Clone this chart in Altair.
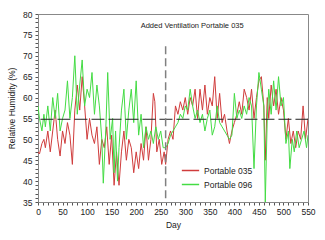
import altair as alt
import pandas as pd

# ---- data ----
days_096 = [0, 3, 8, 12, 15, 20, 25, 30, 35, 40, 45, 50, 55, 60, 65, 70, 75, 80, 85, 90,
            95, 100, 105, 110, 115, 120, 125, 130, 133, 138, 142, 147, 152, 155, 158, 162,
            165, 170, 175, 180, 185, 190, 195, 200, 205, 210, 215, 220, 225, 230, 235, 240,
            245, 250, 255, 260, 265, 270, 275, 280, 285, 290, 295, 300, 305, 310, 315, 320,
            325, 330, 335, 340, 345, 350, 355, 360, 365, 370, 375, 380, 385, 390, 395, 400,
            405, 410, 415, 420, 425, 430, 435, 440, 445, 450, 455, 460, 463, 467, 470, 475,
            480, 485, 490, 495, 500, 505, 510, 513, 518, 522, 527, 532, 537, 542, 547, 550]
rh_096 = [58, 55, 52, 56, 53, 58, 52, 60, 55, 61, 52, 55, 57, 64, 55, 60, 70, 56, 63, 69,
          58, 62, 60, 66, 56, 63, 58, 50, 39.5, 52, 66, 50, 55, 42, 52, 40,
          48, 57, 62, 50, 57, 62, 54, 64, 51, 56, 48, 53, 50, 52, 49, 53,
          50, 52, 48, 48, 49, 51, 52, 53, 54, 56, 55, 58, 57, 62, 58, 55,
          57, 54, 56, 52, 55, 57, 51, 53, 58, 54, 53, 52, 51, 50, 51, 61,
          55, 57, 55, 58, 56, 60, 58, 43, 58, 66, 62, 58, 35, 55, 62, 56,
          64, 57, 65, 58, 60, 49, 52, 43, 50, 47, 52, 48, 50, 52, 48, 51]

days_035 = [0, 3, 8, 12, 15, 20, 25, 30, 35, 40, 45, 50, 55, 60, 65, 70, 75, 80, 85, 90,
            95, 100, 105, 110, 115, 120, 125, 130, 135, 140, 145, 150, 155, 160, 165, 170,
            175, 180, 185, 190, 195, 200, 205, 210, 215, 220, 225, 230, 235, 238, 242, 247,
            252, 257, 260, 265, 270, 275, 280, 285, 290, 295, 300, 305, 310, 315, 320, 325,
            330, 335, 340, 345, 350, 355, 360, 365, 370, 375, 380, 385, 390, 395, 400, 405,
            410, 415, 420, 425, 430, 435, 440, 445, 450, 455, 460, 463, 467, 470, 475, 480,
            485, 490, 495, 500, 505, 510, 515, 520, 525, 530, 535, 540, 545, 550]
rh_035 = [47, 46.5, 49, 50, 48, 52, 47, 52, 57, 50, 46, 52, 49, 54, 51, 44, 57, 63, 57, 65,
          58, 50, 55, 51, 49, 53, 44, 50, 48, 53, 44, 51, 39, 47, 39, 47,
          52, 45, 50, 48, 42, 47, 43, 49, 45, 53, 45, 50, 61, 59, 47, 50,
          44, 47, 44, 50, 52, 50, 58, 56, 59, 57, 60, 56, 60, 58, 62, 55,
          62, 57, 63, 56, 60, 58, 65, 55, 61, 54, 56, 52, 49, 52, 54, 56,
          59, 56, 62, 60, 57, 62, 55, 60, 64, 65, 58, 45, 60, 55, 63, 58,
          62, 56, 60, 57, 50, 55, 49, 52, 48, 52, 50, 58, 50, 55]

series_names = ["Portable 035", "Portable 096"]
series_colors = ["#d03c3c", "#44dc44"]

mean_line_rh = [54.8]
mean_line_start = [5]
mean_line_end = [550]

event_day = [260]
event_top = [72.3]
event_bottom = [35]

annotation_text = ["Added Ventilation Portable 035"]
annotation_day = [314]
annotation_rh = [77.2]

x_ticks = list(range(0, 551, 10))
y_ticks = list(range(35, 81, 1))

# ---- tables ----
df = pd.concat([
    pd.DataFrame({"day": days_035, "rh": rh_035, "series": series_names[0]}),
    pd.DataFrame({"day": days_096, "rh": rh_096, "series": series_names[1]}),
])
mean_df = pd.DataFrame({"day": mean_line_start, "x2": mean_line_end, "rh": mean_line_rh})
event_df = pd.DataFrame({"day": event_day, "rh": event_top, "y2": event_bottom})
ann_df = pd.DataFrame({"day": annotation_day, "rh": annotation_rh, "t": annotation_text})

FONT = "Liberation Sans"
xscale = alt.Scale(domain=[0, 550], nice=False, zero=False)
yscale = alt.Scale(domain=[35, 80], nice=False, zero=False)

common_axis = dict(labelFont=FONT, titleFont=FONT, labelFontSize=8.5, titleFontSize=8.5,
                   titleFontWeight="normal", labelColor="#222", titleColor="#222",
                   domainColor="#888", tickColor="#555", tickWidth=1, grid=False,
                   labelOverlap=False, labelFlush=False, labelBound=False, tickSize=3)

x_axis = alt.Axis(values=x_ticks, labelExpr="datum.value % 50 === 0 ? datum.label : ''",
                  labelPadding=2, title="Day", titlePadding=5, **common_axis)
y_axis = alt.Axis(values=y_ticks, labelExpr="datum.value % 5 === 0 ? datum.label : ''",
                  labelPadding=3, title="Relative Humidity (%)", titlePadding=6, **common_axis)

X = alt.X("day:Q", scale=xscale, axis=x_axis)
Y = alt.Y("rh:Q", scale=yscale, axis=y_axis)

lines = alt.Chart(df).mark_line(strokeWidth=1, clip=True).encode(
    x=X, y=Y,
    color=alt.Color("series:N",
                    scale=alt.Scale(domain=series_names, range=series_colors),
                    legend=alt.Legend(title=None, orient="none", legendX=143, legendY=147,
                                      symbolType="stroke", symbolSize=300, symbolStrokeWidth=1.5,
                                      labelFont=FONT, labelFontSize=8.5, rowPadding=0,
                                      labelColor="#222", labelOffset=4)),
    order=alt.Order("day:Q"),
)

mean_rule = alt.Chart(mean_df).mark_rule(color="#222", strokeWidth=1, strokeDash=[13, 4]).encode(
    x=X, x2="x2:Q", y=Y
)

event_rule = alt.Chart(event_df).mark_rule(color="#808080", strokeWidth=1.5, strokeDash=[8, 4]).encode(
    x=X, y=Y, y2="y2:Q"
)

ann = alt.Chart(ann_df).mark_text(font=FONT, fontSize=7.5, color="#222", align="center").encode(
    x=X, y=Y, text="t:N"
)

chart = alt.layer(lines, mean_rule, event_rule, ann).properties(
    width=270, height=188,
    padding={"left": 7, "top": 10, "right": 5, "bottom": 5},
    background="white",
).configure_view(stroke="#888", strokeWidth=1)

chart.save("out.html", embed_options={"renderer": "svg", "actions": False})
